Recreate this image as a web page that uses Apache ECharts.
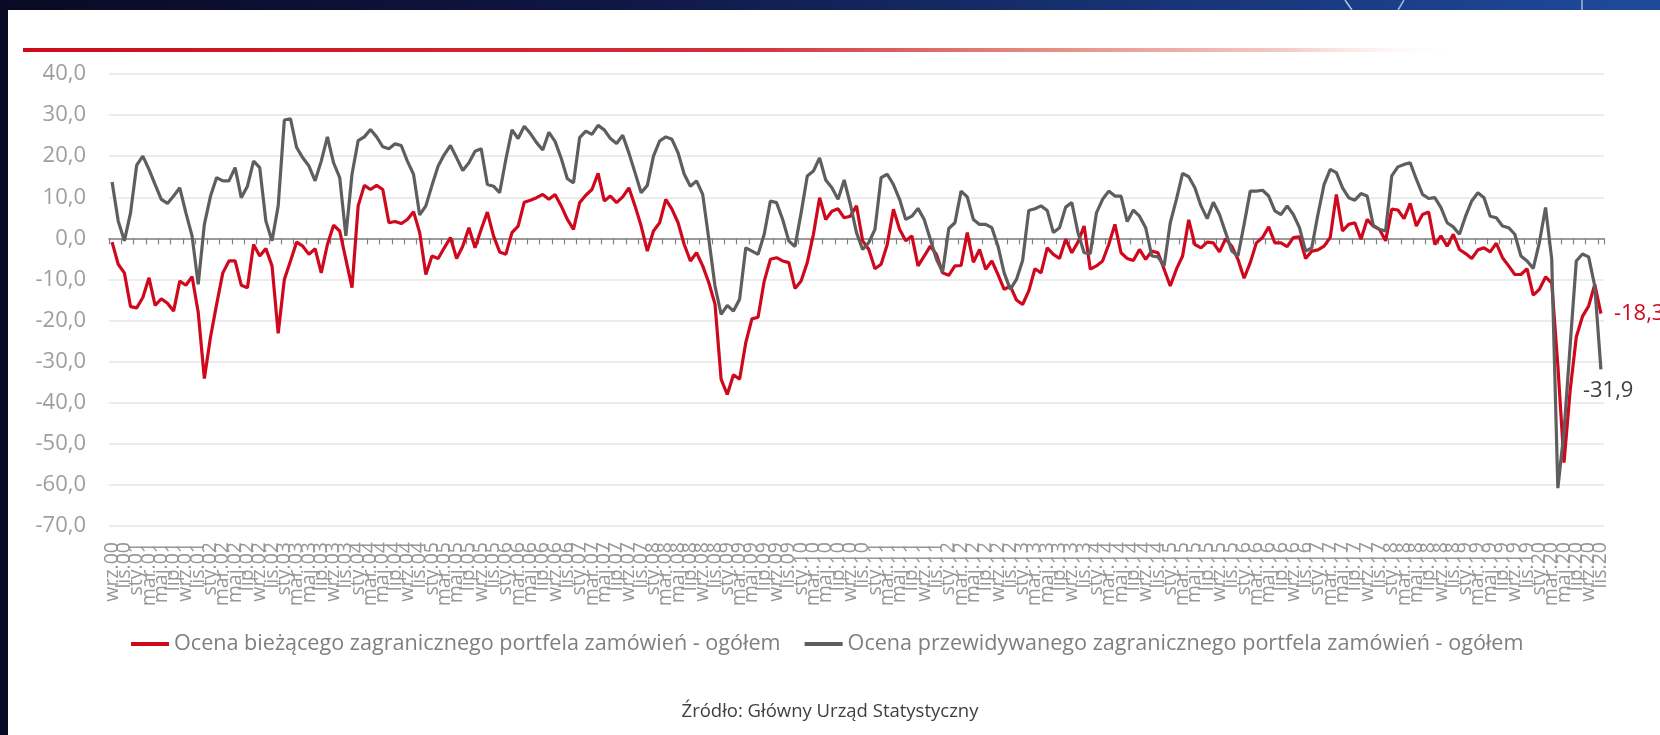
<!DOCTYPE html>
<html>
<head>
<meta charset="utf-8">
<script src="https://cdn.jsdelivr.net/npm/echarts@6/dist/echarts.min.js"></script>
<style>
html,body{margin:0;padding:0;background:#ffffff;}
#chart{width:1660px;height:735px;}
</style>
</head>
<body>
<div id="chart"></div>
<script>
// ---- category labels (monthly, wrz.00 .. lis.20) ----
const monthNames = ['sty','lut','mar','kwi','maj','cze','lip','sie','wrz','paź','lis','gru'];
const startYear = 2000, startMonth = 8, monthCount = 243;
const categories = [];
for (let k = 0; k < monthCount; k++) {
  const m = (startMonth + k) % 12;
  const y = startYear + Math.floor((startMonth + k) / 12);
  categories.push(monthNames[m] + '.' + String(y % 100).padStart(2, '0'));
}

// ---- series values ----
const currentOrders = [
  -0.9,-6.3,-8.4,-16.6,-16.9,-14.4,-9.6,-16.3,-14.7,-15.8,
  -17.7,-10.4,-11.4,-9.3,-18.0,-34.1,-24.0,-16.0,-8.4,-5.5,
  -5.5,-11.4,-12.0,-1.5,-4.3,-2.5,-6.7,-23.1,-10.0,-5.5,
  -0.9,-1.9,-3.9,-2.5,-8.4,-1.5,3.2,1.8,-5.1,-12.0,
  7.9,12.9,11.9,12.9,11.9,3.8,4.1,3.6,4.6,6.5,
  1.4,-8.8,-4.3,-4.9,-2.3,0.2,-4.9,-1.9,2.6,-2.3,
  2.2,6.4,0.6,-3.3,-3.9,1.4,3.0,8.8,9.3,9.9,
  10.7,9.5,10.7,7.9,4.6,2.2,8.7,10.5,11.9,15.8,
  9.1,10.3,8.7,10.1,12.3,7.9,3.0,-3.1,1.8,3.8,
  9.5,7.1,3.8,-1.5,-5.5,-3.5,-6.7,-10.8,-16.0,-34.3,
  -38.0,-33.2,-34.3,-25.4,-19.6,-19.2,-10.4,-5.1,-4.7,-5.5,
  -5.9,-12.2,-10.4,-5.9,1.0,9.9,4.6,6.6,7.2,5.0,
  5.4,7.9,-0.6,-2.7,-7.4,-6.3,-1.5,7.1,2.2,-0.6,
  0.6,-6.7,-4.3,-1.9,-3.9,-8.4,-9.0,-6.7,-6.6,1.4,
  -5.8,-2.7,-7.5,-5.5,-8.8,-12.4,-11.6,-15.0,-16.1,-12.8,
  -7.4,-8.4,-2.3,-3.9,-4.9,-0.2,-3.5,-0.9,3.0,-7.5,
  -6.7,-5.5,-1.5,3.4,-3.5,-4.9,-5.4,-2.7,-5.1,-3.1,
  -3.5,-7.5,-11.6,-7.5,-4.3,4.5,-1.5,-2.3,-0.9,-1.1,
  -3.3,-0.1,-1.9,-5.1,-9.7,-5.9,-1.1,0.2,2.8,-1.1,
  -1.1,-2.0,0.2,0.4,-4.9,-3.1,-2.8,-1.9,0.2,10.7,
  1.8,3.4,3.8,-0.2,4.6,3.0,2.2,-0.6,7.1,6.9,
  4.8,8.5,3.0,5.8,6.4,-1.5,0.6,-1.9,1.0,-2.7,
  -3.7,-4.9,-2.8,-2.3,-3.3,-1.2,-4.7,-6.7,-8.8,-8.8,
  -7.4,-13.8,-12.4,-9.4,-10.8,-31.0,-54.6,-37.0,-24.0,-19.0,
  -16.5,-11.2,-18.3
];
const expectedOrders = [
  13.7,4.2,-0.6,6.2,17.8,20.0,16.8,13.1,9.5,8.5,
  10.3,12.3,6.2,0.6,-11.2,3.4,10.3,14.8,14.0,14.0,
  17.2,9.9,12.7,18.8,17.2,4.2,-0.6,7.9,28.8,29.1,
  22.1,19.6,17.6,14.0,18.8,24.7,18.4,14.8,0.6,15.6,
  23.8,24.7,26.5,24.7,22.3,21.8,23.0,22.6,18.8,15.6,
  5.7,7.9,12.9,17.6,20.4,22.6,19.6,16.5,18.4,21.2,
  21.8,13.1,12.7,11.1,19.2,26.4,24.3,27.3,25.5,23.3,
  21.5,25.8,23.6,19.5,14.5,13.5,24.5,26.1,25.3,27.5,
  26.4,24.3,23.1,25.1,20.8,16.0,11.1,12.9,20.0,23.7,
  24.7,24.1,20.8,15.6,12.7,14.0,10.7,-0.2,-11.6,-18.5,
  -16.3,-17.7,-14.8,-2.3,-3.1,-3.9,1.0,9.1,8.7,4.6,
  -0.6,-2.0,6.2,15.2,16.4,19.6,14.2,12.3,9.5,14.2,
  8.3,1.4,-2.7,-1.0,2.2,14.8,15.6,13.1,9.5,4.6,
  5.4,7.3,4.6,-0.2,-5.1,-8.2,2.4,3.8,11.5,10.1,
  4.6,3.4,3.4,2.6,-1.9,-8.4,-12.4,-10.0,-5.4,6.8,
  7.2,7.9,6.8,1.4,2.6,7.6,8.7,1.4,-3.5,-3.7,
  6.2,9.5,11.5,10.3,10.3,4.1,6.9,5.4,2.6,-4.3,
  -4.5,-6.7,3.8,9.5,15.8,15.0,12.3,7.9,4.8,8.8,
  5.8,1.4,-3.1,-4.3,3.4,11.5,11.5,11.7,10.3,6.7,
  5.8,7.9,5.8,2.6,-3.1,-2.3,5.8,13.1,16.8,16.0,
  12.3,9.9,9.3,10.9,10.3,3.2,2.2,1.8,15.2,17.4,
  18.0,18.4,14.4,10.7,9.7,9.9,7.5,3.8,2.8,1.0,
  5.4,9.1,11.1,9.9,5.4,5.0,3.0,2.6,1.0,-4.3,
  -5.5,-7.3,-1.0,7.5,-5.0,-60.8,-47.0,-26.0,-5.5,-3.8,
  -4.5,-11.6,-31.9
];

// ---- axis ticks / texts ----
const yMin = -70, yMax = 40, yStep = 10;
const seriesNames = [
  'Ocena bieżącego zagranicznego portfela zamówień - ogółem',
  'Ocena przewidywanego zagranicznego portfela zamówień - ogółem'
];
const sourceText = 'Źródło: Główny Urząd Statystyczny';

const RED = '#d0081e', GREY = '#5e5e5e';
const fmt = v => v.toFixed(1).replace('.', ',');
const everySecond = idx => idx % 2 === 0;
const labelEverySecond = value => (categories.indexOf(value) % 2 === 0 ? value : '');
const endFmt = p => fmt(Array.isArray(p.value) ? p.value[1] : p.value);

const chart = echarts.init(document.getElementById('chart'), null, { renderer: 'canvas' });
chart.setOption({
  backgroundColor: '#ffffff',
  animation: false,
  textStyle: { fontFamily: 'Open Sans' },
  grid: { left: 109, right: 56, top: 74, bottom: 209, containLabel: false },
  legend: {
    left: 131, top: 633, padding: 0,
    itemWidth: 38, itemHeight: 4, itemGap: 24,
    icon: 'rect',
    textStyle: { fontSize: 21.6, color: '#7f7f7f', fontFamily: 'Open Sans' },
    data: seriesNames
  },
  xAxis: [
    {
      type: 'category', data: categories, boundaryGap: true,
      axisLine: { show: true, onZero: true, lineStyle: { color: '#808080', width: 1.5 } },
      axisTick: { show: true, interval: everySecond, length: 6, lineStyle: { color: '#808080', width: 1.2 } },
      axisLabel: { show: false },
      splitLine: { show: false }
    },
    {
      type: 'category', data: categories, boundaryGap: true, position: 'bottom',
      axisLine: { show: false, onZero: false },
      axisTick: { show: false },
      axisLabel: { show: true, interval: 0, showMinLabel: true, showMaxLabel: true, hideOverlap: false,
        formatter: labelEverySecond,
        rotate: 90, margin: 16, fontSize: 19.5, color: '#969696', fontFamily: 'Open Sans' },
      splitLine: { show: false }
    }
  ],
  yAxis: {
    type: 'value', min: yMin, max: yMax, interval: yStep,
    axisLine: { show: false }, axisTick: { show: false },
    axisLabel: { formatter: fmt, fontSize: 22, color: '#9e9e9e', margin: 23, fontFamily: 'Open Sans' },
    splitLine: { lineStyle: { color: '#e6e6e6', width: 1.5 } }
  },
  series: [
    {
      name: seriesNames[0], type: 'line', xAxisIndex: 0,
      data: currentOrders,
      showSymbol: false, symbol: 'none',
      lineStyle: { color: RED, width: 3.2 }, itemStyle: { color: RED },
      endLabel: { show: true, formatter: endFmt, color: RED, fontSize: 22, distance: 11, offset: [2, 0], fontFamily: 'Open Sans' },
      labelLayout: { hideOverlap: false },
      z: 3
    },
    {
      name: seriesNames[1], type: 'line', xAxisIndex: 0,
      data: expectedOrders,
      showSymbol: false, symbol: 'none',
      lineStyle: { color: GREY, width: 3.2 }, itemStyle: { color: GREY },
      endLabel: { show: true, formatter: endFmt, color: '#404040', fontSize: 22, distance: 0, offset: [-18, 21], fontFamily: 'Open Sans' },
      labelLayout: { hideOverlap: false },
      z: 4
    }
  ],
  graphic: [
    { type: 'rect', shape: { x: 0, y: 0, width: 1660, height: 10 }, z: 100,
      style: { fill: new echarts.graphic.LinearGradient(0, 0, 1, 0, [
        { offset: 0, color: '#0b0a24' }, { offset: 0.35, color: '#0f1542' },
        { offset: 0.65, color: '#16306f' }, { offset: 1, color: '#1f4a9c' }]) } },
    { type: 'line', shape: { x1: 1345, y1: 0, x2: 1352, y2: 10 }, z: 101, style: { stroke: 'rgba(220,235,255,0.8)', lineWidth: 1.5 } },
    { type: 'line', shape: { x1: 1404, y1: 0, x2: 1398, y2: 10 }, z: 101, style: { stroke: 'rgba(220,235,255,0.7)', lineWidth: 1.5 } },
    { type: 'line', shape: { x1: 1582, y1: 0, x2: 1582, y2: 10 }, z: 101, style: { stroke: 'rgba(220,235,255,0.7)', lineWidth: 1.5 } },
    { type: 'rect', shape: { x: 0, y: 0, width: 8, height: 735 }, z: 100, style: { fill: '#0b0a24' } },
    { type: 'rect', shape: { x: 23, y: 48, width: 1440, height: 4 }, z: 100,
      style: { fill: new echarts.graphic.LinearGradient(0, 0, 1, 0, [
        { offset: 0, color: '#cc0c1e' }, { offset: 0.5, color: '#d2303a' },
        { offset: 0.7, color: '#e38a80' }, { offset: 0.88, color: '#f4cbc8' },
        { offset: 1, color: 'rgba(255,255,255,0)' }]) } },
    { type: 'text', left: 'center', top: 702, z: 100,
      style: { text: sourceText, fill: '#404040', font: '18.5px "Open Sans"', x: 0 } }
  ]
});
</script>
</body>
</html>
